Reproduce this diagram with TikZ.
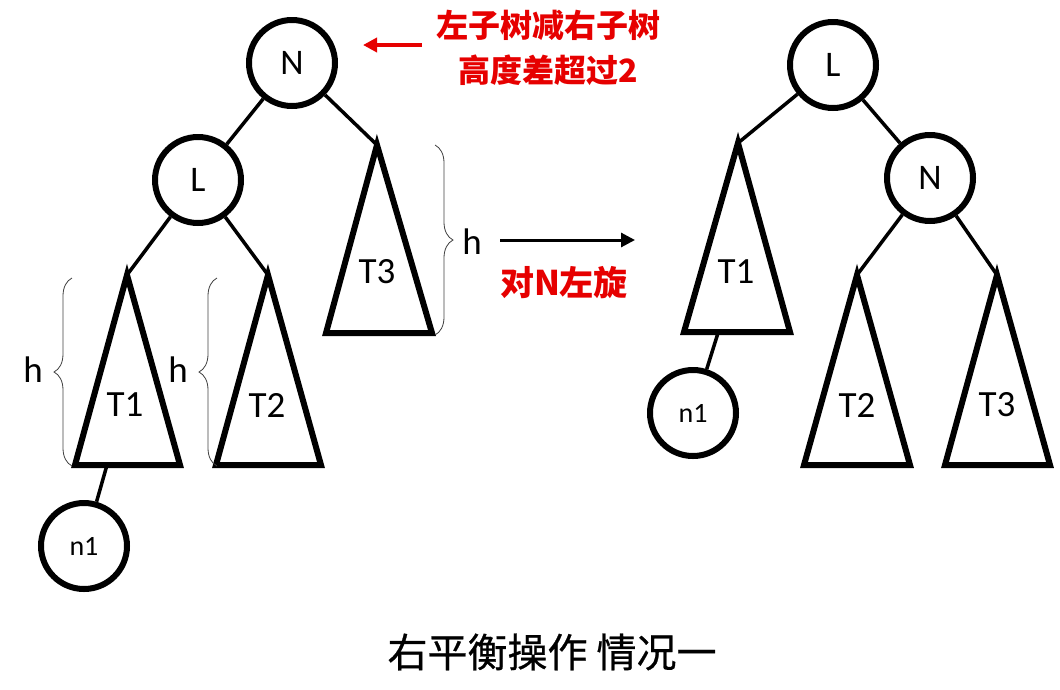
\documentclass[tikz,border=0pt]{standalone}
\usepackage{fontspec}
\setmainfont{Carlito}
\newfontfamily\cjk{Noto Sans CJK SC}
\newfontfamily\cjkm[FakeBold=0.6]{Noto Sans CJK SC}
\usetikzlibrary{decorations.pathreplacing,arrows.meta}
\definecolor{tred}{RGB}{230,0,0}
\begin{document}
\begin{tikzpicture}[x=1pt,y=-1pt,
  tnode/.style={circle,draw,line width=6pt,minimum size=86pt,inner sep=0pt,font=\fontsize{36}{40}\selectfont},
  smallnode/.style={tnode,font=\fontsize{28}{32}\selectfont},
  edge/.style={line width=3.5pt},
  tri/.style={line width=6pt,line join=miter},
  tlabel/.style={font=\fontsize{37}{42}\selectfont},
  hlabel/.style={font=\fontsize{37}{42}\selectfont},
  bracestyle/.style={decorate,decoration={brace,amplitude=18pt},line width=0.8pt,draw=black!75},
  redtext/.style={text=tred,font=\cjk\bfseries\fontsize{32}{38}\selectfont}]
\useasboundingbox (0,0) rectangle (1060,689);

% ---------- left tree ----------
\node[tnode] (N) at (292,63) {N};
\node[tnode] (L) at (198,180) {L};
\coordinate (t3a) at (377,145);
\coordinate (t1a) at (127,275);
\coordinate (t2a) at (268,275);
\coordinate (t1b) at (107,465);
\draw[tri] (t3a) -- (432,333) -- (326,333) -- cycle;
\draw[tri] (t1a) -- (180,465) -- (75,465) -- cycle;
\draw[tri] (t2a) -- (321,465) -- (216,465) -- cycle;
\node[tlabel] (T3) at (377,272) {T3};
\node[tlabel] (T1) at (125,405) {T1};
\node[tlabel] (T2) at (267,405) {T2};
\node[smallnode] (n1) at (84,546) {n1};
\draw[edge] (N) -- (L);
\draw[edge] (N) -- (t3a);
\draw[edge] (L) -- (t1a);
\draw[edge] (L) -- (t2a);
\draw[edge] (t1b) -- (n1);

% braces
\coordinate (b1s) at (72,466);
\coordinate (b1e) at (72,278);
\coordinate (b2s) at (217,466);
\coordinate (b2e) at (217,278);
\coordinate (b3s) at (435,145);
\coordinate (b3e) at (435,335);
\draw[bracestyle] (b1s) -- (b1e);
\draw[bracestyle] (b2s) -- (b2e);
\draw[bracestyle] (b3s) -- (b3e);
\node[hlabel] (h1) at (33,370) {h};
\node[hlabel] (h2) at (178,370) {h};
\node[hlabel] (h3) at (472,242) {h};

% rotation arrow
\coordinate (ra) at (500,240);
\coordinate (rb) at (635,240);
\draw[line width=3pt,-{Triangle[length=14pt,width=14pt]}] (ra) -- (rb);
\node[redtext,font=\cjk\bfseries\fontsize{34}{38}\selectfont] (rot) at (564,283) {对N左旋};

% red annotation
\coordinate (aa) at (422,45);
\coordinate (ab) at (363,45);
\draw[tred,line width=3.5pt,-{Triangle[length=14pt,width=14pt]}] (aa) -- (ab);
\node[redtext] (ann1) at (548,25) {左子树减右子树};
\node[redtext] (ann2) at (548,70) {高度差超过2};

% ---------- right tree ----------
\node[tnode] (L2) at (833,65) {L};
\node[tnode] (N2) at (930,178) {N};
\coordinate (r1a) at (738,143);
\coordinate (r2a) at (857,275);
\coordinate (r3a) at (997,275);
\coordinate (r1b) at (718,333);
\draw[tri] (r1a) -- (790,332) -- (684,332) -- cycle;
\draw[tri] (r2a) -- (910,465) -- (804,465) -- cycle;
\draw[tri] (r3a) -- (1050,465) -- (945,465) -- cycle;
\node[tlabel] (R1) at (736,272) {T1};
\node[tlabel] (R2) at (857,405) {T2};
\node[tlabel] (R3) at (997,405) {T3};
\node[smallnode] (rn1) at (693,413) {n1};
\draw[edge] (L2) -- (r1a);
\draw[edge] (L2) -- (N2);
\draw[edge] (N2) -- (r2a);
\draw[edge] (N2) -- (r3a);
\draw[edge] (r1b) -- (rn1);

% title
\node[font=\cjkm\fontsize{40}{46}\selectfont] (title) at (552,652) {右平衡操作 情况一};
\end{tikzpicture}
\end{document}
